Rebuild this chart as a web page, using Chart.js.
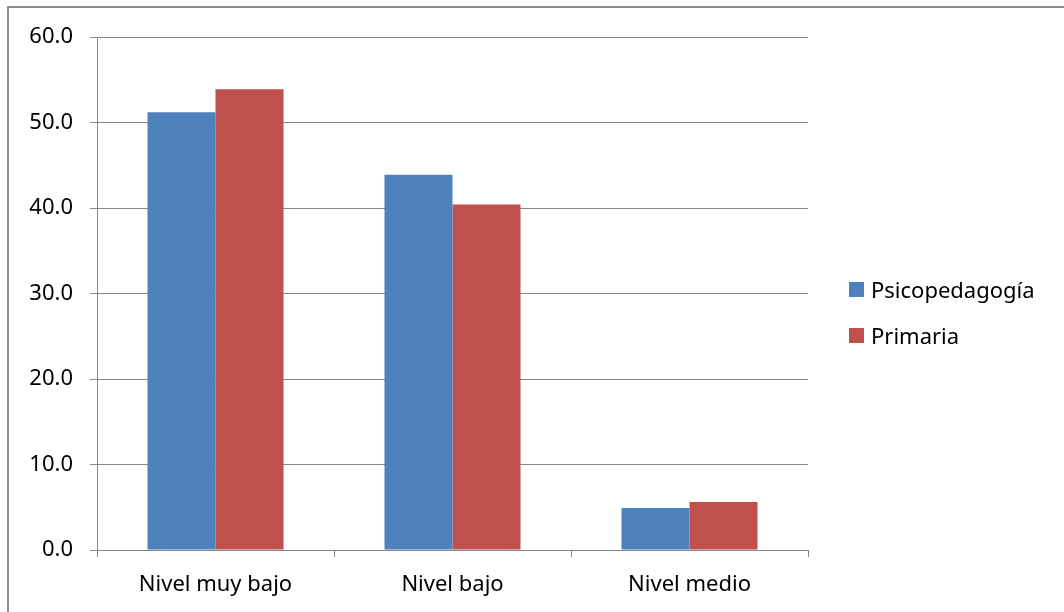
<!DOCTYPE html>
<html lang="es">
<head>
    <meta charset="UTF-8">
    <title>Niveles por grupo</title>
    <script src="https://cdnjs.cloudflare.com/ajax/libs/Chart.js/4.4.1/chart.umd.min.js"></script>
    <style>
        body {
            margin: 0;
            background: #ffffff;
            font-family: 'Noto Sans', sans-serif;
        }

        .frame {
            position: absolute;
            left: 0;
            top: 0;
            width: 1064px;
            height: 612px;
        }

        .border {
            position: absolute;
            left: 7px;
            top: 6px;
            width: 1060px;
            height: 610px;
            border: 2px solid #8c8c8c;
            box-sizing: border-box;
        }

        #legend {
            position: absolute;
            left: 849px;
            top: 275px;
            font-size: 22px;
            color: #000;
        }

        .legend-item {
            display: flex;
            align-items: center;
            height: 28px;
            margin-bottom: 18px;
        }

        .legend-box {
            width: 15px;
            height: 15px;
            margin-right: 7px;
        }
    </style>
</head>
<body>
    <div class="frame">
        <canvas id="chart" width="1064" height="612"></canvas>
        <div class="border"></div>
        <div id="legend"></div>
    </div>

    <script>
        // data
        const categories = ["Nivel muy bajo", "Nivel bajo", "Nivel medio"];
        const seriesNames = ["Psicopedagogía", "Primaria"];
        const psicopedagogia = [51.2, 43.9, 4.9];
        const primaria = [53.9, 40.4, 5.6];
        const colors = ["#4F81BD", "#C0504D"];
        const yTicks = [0, 10, 20, 30, 40, 50, 60];

        const axisColor = "#868686";

        let ctx = document.getElementById("chart").getContext("2d");
        let chart = new Chart(ctx, {
            type: "bar",
            data: {
                labels: categories,
                datasets: [
                    { label: seriesNames[0], data: psicopedagogia, backgroundColor: colors[0] },
                    { label: seriesNames[1], data: primaria, backgroundColor: colors[1] }
                ]
            },
            options: {
                responsive: false,
                animation: false,
                layout: {
                    padding: { left: 0, top: 37, right: 256, bottom: 0 }
                },
                plugins: {
                    legend: { display: false },
                    tooltip: { enabled: false }
                },
                datasets: {
                    bar: { categoryPercentage: 0.574, barPercentage: 1 }
                },
                scales: {
                    x: {
                        grid: {
                            offset: true,
                            drawOnChartArea: false,
                            drawTicks: true,
                            tickLength: 7,
                            color: axisColor
                        },
                        border: { color: axisColor, width: 1 },
                        ticks: {
                            color: "#000",
                            padding: 15,
                            font: { family: "'Noto Sans', sans-serif", size: 22 }
                        },
                        afterFit: (scale) => { scale.height = 62; }
                    },
                    y: {
                        min: 0,
                        max: 60,
                        afterBuildTicks: (scale) => {
                            scale.ticks = yTicks.map(v => ({ value: v }));
                        },
                        grid: {
                            color: axisColor,
                            drawTicks: true,
                            tickLength: 7
                        },
                        border: { color: axisColor, width: 1 },
                        ticks: {
                            color: "#000",
                            padding: 17,
                            callback: (v) => Number(v).toFixed(1),
                            font: { family: "'Noto Sans', sans-serif", size: 22 }
                        },
                        afterFit: (scale) => { scale.width = 97; }
                    }
                }
            }
        });

        // legend as html text
        let legend = document.getElementById("legend");
        seriesNames.forEach((name, i) => {
            let item = document.createElement("div");
            item.className = "legend-item";
            let box = document.createElement("span");
            box.className = "legend-box";
            box.style.background = colors[i];
            let text = document.createElement("span");
            text.textContent = name;
            item.appendChild(box);
            item.appendChild(text);
            legend.appendChild(item);
        });
    </script>
</body>
</html>
